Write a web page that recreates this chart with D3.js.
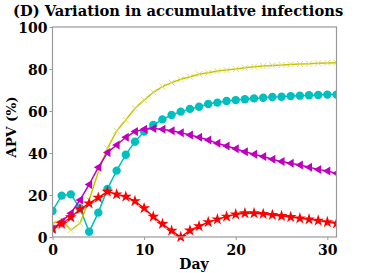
<!DOCTYPE html>
<html><head><meta charset="utf-8">
<script src="https://cdn.jsdelivr.net/npm/d3@7"></script>
<style>body{margin:0;background:#fff}svg{display:block}text{font-family:"DejaVu Serif",serif;font-weight:bold}</style>
</head><body><svg id="c" width="374" height="273"></svg>
<script>
const days = d3.range(0, 32);
const yellowX = [6.5,8.1,3.3,6.5,17.6,31,42.2,50.5,55.7,61.3,65.2,68.9,71.6,73.5,75.1,76.3,77.5,78.2,79,79.5,80,80.6,81.1,81.4,81.7,81.9,82.2,82.4,82.5,82.7,82.9,83];
const cyanCircle = [12.4,19.7,20.3,13.7,2.5,11.6,22.9,31.6,39.2,45.4,50.2,53.3,56,58.1,59.7,61,62,63.3,64,64.8,65.2,65.6,66,66.3,66.7,66.8,67.1,67.3,67.5,67.6,67.8,67.8];
const magentaTri = [3.8,7.3,11.3,17.6,25,33.2,40.2,43.8,47.5,50.2,51.3,51.7,51.3,50.6,49.7,48.6,47.5,46.2,44.6,43.3,42,40.6,39.4,38.3,37,35.9,35.1,34.3,33.2,32.2,31.4,30.3];
const redStar = [4,6.2,9.4,13.2,16,18.7,21.6,20.3,19.2,17.1,13.7,9.7,6.2,3,0,3.1,5.1,7.1,8.4,9.7,10.8,11.3,11.3,11,10.5,10,9.5,8.9,8.4,7.8,7.1,6.5];
const xTicks = [0,10,20,30];
const yTicks = [0,20,40,60,80,100];

const svg = d3.select("#c");
const L=52.5, R=336.5, T=27, B=237;
const x = d3.scaleLinear().domain([0,31]).range([L,R]);
const y = d3.scaleLinear().domain([0,100]).range([B,T]);

svg.append("text").attr("x",13).attr("y",16).attr("font-size",14.7).attr("fill","#000")
  .text("(D) Variation in accumulative infections");

svg.append("clipPath").attr("id","pc").append("rect")
  .attr("x",L).attr("y",T-6).attr("width",R-L).attr("height",B-T+12);

const g = svg.append("g");
svg.append("rect").attr("x",L).attr("y",T).attr("width",R-L).attr("height",B-T)
  .attr("fill","none").attr("stroke","#999").attr("stroke-width",1.2);

const xa = svg.append("g").attr("transform",`translate(0,${B})`)
  .call(d3.axisBottom(x).tickValues(xTicks).tickSize(3).tickPadding(2));
const ya = svg.append("g").attr("transform",`translate(${L},0)`)
  .call(d3.axisLeft(y).tickValues(yTicks).tickSize(3).tickPadding(2));
[xa,ya].forEach(a=>{a.select(".domain").remove();
  a.selectAll("line").attr("stroke","#999");
  a.selectAll("text").attr("font-size",14).attr("fill","#000").attr("font-family","DejaVu Serif").attr("font-weight","bold");});
xa.selectAll("text").attr("dy","0.95em");
ya.selectAll("text").attr("dy","0.4em");

svg.append("text").attr("x",194).attr("y",269).attr("text-anchor","middle").attr("font-size",14).text("Day");
svg.append("text").attr("transform","translate(16,127) rotate(-90)").attr("text-anchor","middle").attr("font-size",13.5).text("APV (%)");

const series = [
  {v:cyanCircle, c:"#00bfbf", m:"circle"},
  {v:yellowX, c:"#c8c400", m:"x"},
  {v:magentaTri, c:"#bf00bf", m:"tri"},
  {v:redStar, c:"#ff0000", m:"star"}
];
const line = d3.line().x((d,i)=>x(days[i])).y(d=>y(d));
const pg = g.append("g").attr("clip-path","url(#pc)");
series.forEach(s=>{
  pg.append("path").attr("d",line(s.v)).attr("fill","none").attr("stroke",s.c).attr("stroke-width",1.5);
  const mg = pg.append("g");
  s.v.forEach((d,i)=>{
    const px=x(days[i]), py=y(d);
    if(s.m==="circle") mg.append("circle").attr("cx",px).attr("cy",py).attr("r",4.2).attr("fill",s.c);
    else if(s.m==="x") mg.append("path").attr("d",`M${px-3},${py-3}L${px+3},${py+3}M${px-3},${py+3}L${px+3},${py-3}`).attr("stroke","#dcdc70").attr("stroke-width",1);
    else if(s.m==="tri") mg.append("path").attr("d",`M${px-4.5},${py}L${px+3},${py-4.5}L${px+3},${py+4.5}Z`).attr("fill",s.c);
    else if(s.m==="star") mg.append("path").attr("d",d3.symbol(d3.symbolStar,44)()).attr("transform",`translate(${px},${py})`).attr("fill",s.c);
  });
});
</script></body></html>
